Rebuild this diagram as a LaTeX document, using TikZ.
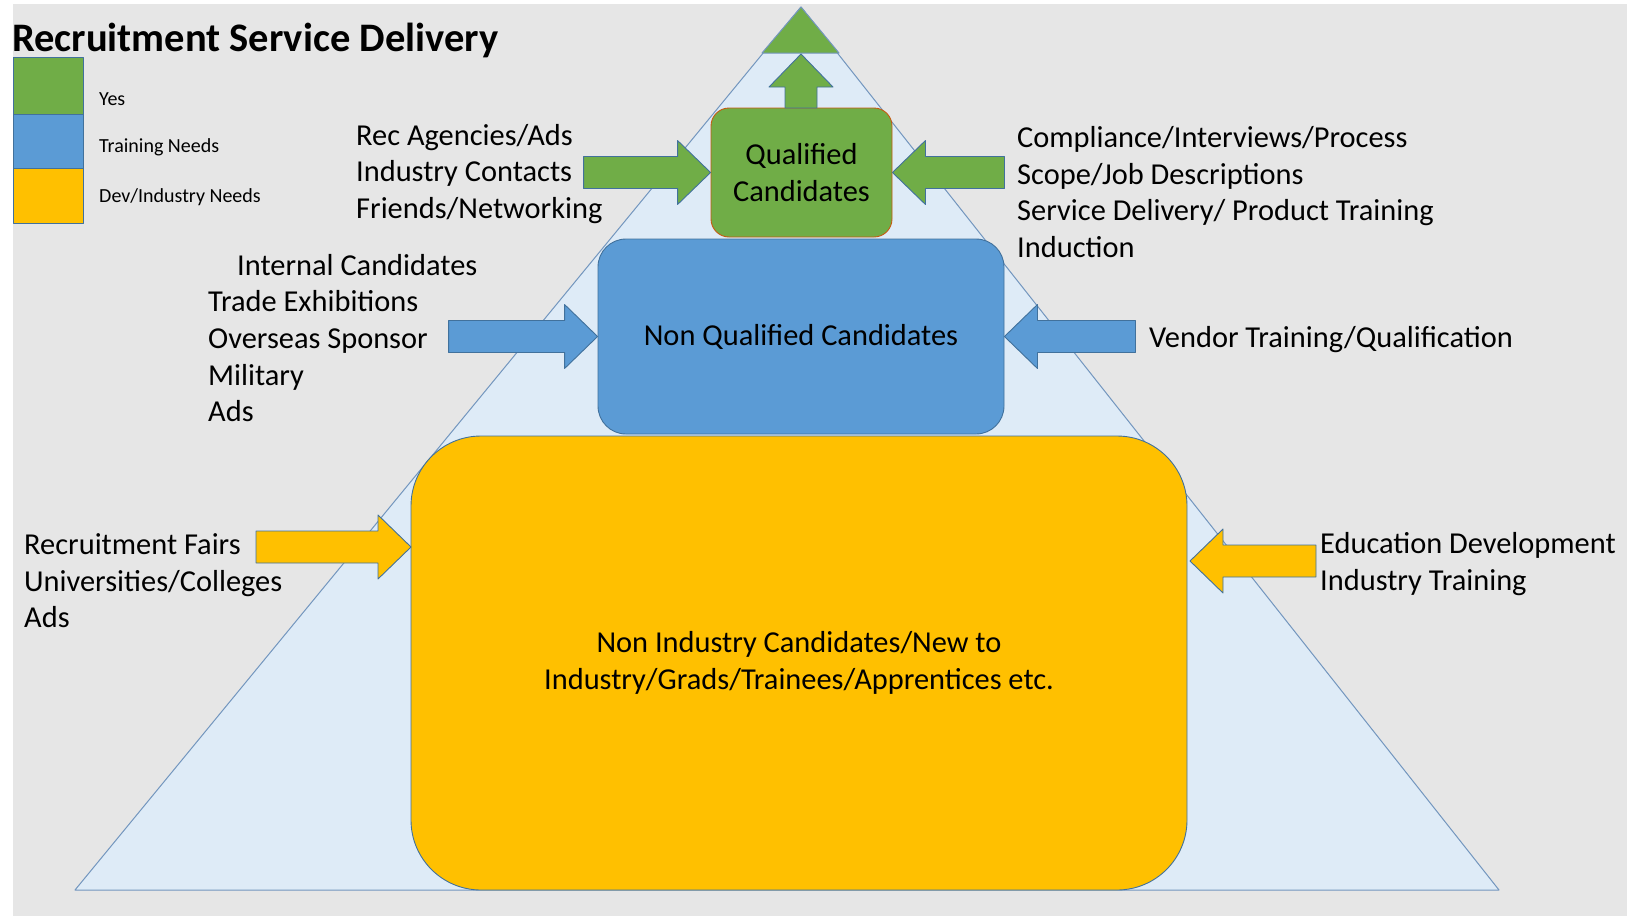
\documentclass[tikz,border=0pt]{standalone}
\usepackage{fontspec}
\setmainfont{Carlito}
\usepackage{tikz}

\definecolor{bggrey}{HTML}{E6E6E6}
\definecolor{pyrfill}{HTML}{DEEBF7}
\definecolor{pyrline}{HTML}{7396BE}
\definecolor{qgreen}{HTML}{70AD47}
\definecolor{nqblue}{HTML}{5B9BD5}
\definecolor{niyellow}{HTML}{FFC000}
\definecolor{edge}{HTML}{41719C}
\definecolor{qedge}{HTML}{C55A11}

% block arrow: tip, angle, length, fill
\newcommand{\feedarrow}[4]{%
  \draw [arrowbox, fill=#4, shift={#1}, rotate=#2] (0,0) -- (-33,32) -- (-33,16) -- (-#3,16) -- (-#3,-16) -- (-33,-16) -- (-33,-32) -- cycle;}

\begin{document}
\begin{tikzpicture}[x=1pt,y=-1pt,line join=round,
  arrowbox/.style={draw=edge,line width=0.9pt},
  stage/.style={draw=edge,line width=0.9pt,inner sep=0pt,align=center,font=\fontsize{30.4}{37}\selectfont},
  lbl/.style={inner sep=0pt,anchor=west,align=left,font=\fontsize{30.4}{36.6}\selectfont},
  legbox/.style={draw=edge,line width=0.8pt},
  legtext/.style={inner sep=0pt,anchor=west,font=\fontsize{20}{22}\selectfont}]
\useasboundingbox (0,0) rectangle (1627,916);
\fill [bggrey] (13,4) rectangle (1627,916);

% pyramid and its green cap
\draw [fill=pyrfill,draw=pyrline,line width=1pt] (75,890) -- (801,7) -- (1499,890) -- cycle;
\draw [fill=qgreen,draw=pyrline,line width=1pt] (762,53) -- (801,7) -- (839,53) -- cycle;

% the three stages
\node [stage,fill=niyellow,rounded corners=70pt,minimum width=776pt,minimum height=454pt] (base) at (799,663) {Non Industry Candidates/New to\\Industry/Grads/Trainees/Apprentices etc.};
\node [stage,fill=nqblue,rounded corners=28pt,minimum width=406pt,minimum height=195pt] (nonq) at (801,336.5) {Non Qualified Candidates};
\node [stage,fill=qgreen,draw=qedge,rounded corners=18pt,minimum width=181pt,minimum height=129pt] (qual) at (801.5,172.5) {Qualified\\Candidates};

% arrows
\feedarrow{(801,54)}{90}{54}{qgreen}
\feedarrow{(qual.west)}{0}{127}{qgreen}
\feedarrow{(qual.east)}{180}{112}{qgreen}
\feedarrow{(nonq.west)}{0}{149}{nqblue}
\feedarrow{(nonq.east)}{180}{131}{nqblue}
\feedarrow{(411,547)}{0}{155}{niyellow}
\feedarrow{(1190,561)}{180}{126}{niyellow}

% labels
\node [lbl] (srcq) at (356,174) {Rec Agencies/Ads\\Industry Contacts\\Friends/Networking};
\node [lbl] (devq) at (1017,192) {Compliance/Interviews/Process\\Scope/Job Descriptions\\Service Delivery/ Product Training\\Induction};
\node [lbl] (srcnq) at (208,338) {\hspace*{29pt}Internal Candidates\\Trade Exhibitions\\Overseas Sponsor\\Military\\Ads};
\node [lbl] (devnq) at (1149,340) {Vendor Training/Qualification};
\node [lbl] (srcni) at (24,581) {Recruitment Fairs\\Universities/Colleges\\Ads};
\node [lbl] (devni) at (1320,564) {Education Development\\Industry Training};

% title and key
\node [inner sep=0pt,anchor=west,font=\fontsize{40.5}{45}\selectfont\bfseries] (title) at (12,40) {Recruitment Service Delivery};
\draw [legbox,fill=qgreen] (13,57) rectangle (83,114);
\draw [legbox,fill=nqblue] (13,114) rectangle (83,168);
\draw [legbox,fill=niyellow] (13,168) rectangle (83,223);
\node [legtext] (kyes) at (99,99) {Yes};
\node [legtext] (ktrain) at (99,147) {Training Needs};
\node [legtext] (kdev) at (99,197) {Dev/Industry Needs};
\end{tikzpicture}
\end{document}
